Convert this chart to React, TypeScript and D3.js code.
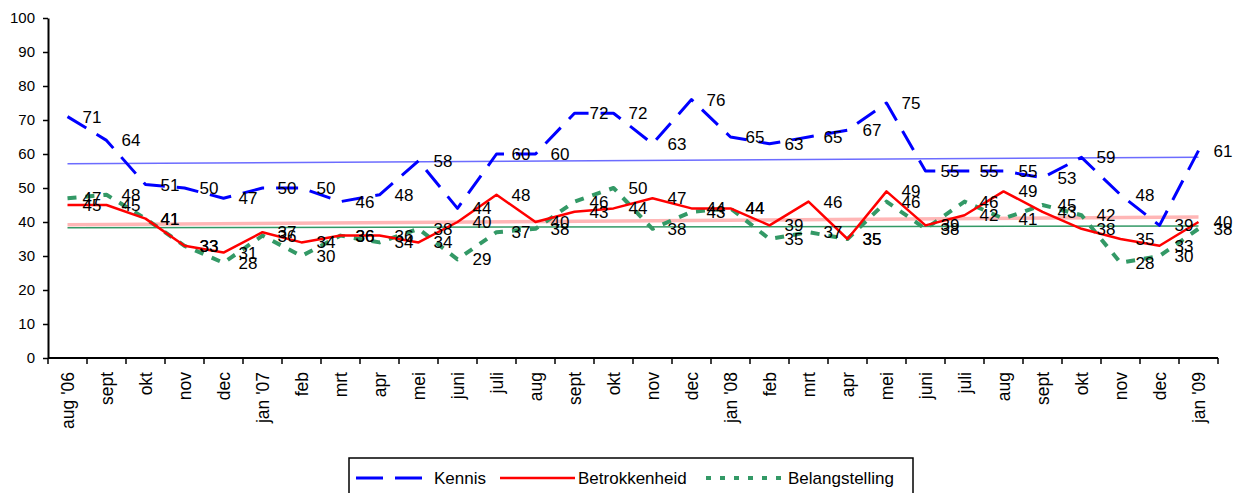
import { useEffect, useRef } from "react";
import * as d3 from "d3";

const categories = [
  "aug '06", "sept", "okt", "nov", "dec", "jan '07", "feb", "mrt", "apr", "mei",
  "juni", "juli", "aug", "sept", "okt", "nov", "dec", "jan '08", "feb", "mrt",
  "apr", "mei", "juni", "juli", "aug", "sept", "okt", "nov", "dec", "jan '09",
];

const kennis = [
  71, 64, 51, 50, 47, 50, 50, 46, 48, 58, 44, 60, 60, 72, 72, 63, 76, 65, 63, 65,
  67, 75, 55, 55, 55, 53, 59, 48, 39, 61,
];
const betrokkenheid = [
  45, 45, 41, 33, 31, 37, 34, 36, 36, 34, 40, 48, 40, 43, 44, 47, 44, 44, 39, 46,
  35, 49, 39, 42, 49, 43, 38, 35, 33, 40,
];
const belangstelling = [
  47, 48, 41, 33, 28, 36, 30, 36, 34, 38, 29, 37, 38, 46, 50, 38, 43, 44, 35, 37,
  35, 46, 38, 46, 41, 45, 42, 28, 30, 38,
];

const yTicks = [0, 10, 20, 30, 40, 50, 60, 70, 80, 90, 100];

const series = [
  { name: "Kennis", values: kennis, color: "#0000ff", width: 3, dash: "22,12", trend: "#3b3bff", trendWidth: 1.5, trendOpacity: 0.75 },
  { name: "Betrokkenheid", values: betrokkenheid, color: "#ff0000", width: 2.5, dash: null, trend: "#ff7070", trendWidth: 3.5, trendOpacity: 0.5 },
  { name: "Belangstelling", values: belangstelling, color: "#339966", width: 4, dash: "9,9", trend: "#339966", trendWidth: 1.5, trendOpacity: 1 },
];

// lineaire trendlijn (kleinste kwadraten), begin- en eindwaarde
const trendEnds = (values) => {
  const n = values.length;
  const xs = d3.range(n);
  const mx = d3.mean(xs);
  const my = d3.mean(values);
  const sxy = d3.sum(xs, (x, i) => (x - mx) * (values[i] - my));
  const sxx = d3.sum(xs, (x) => (x - mx) ** 2);
  const b = sxy / sxx;
  const a = my - b * mx;
  return [a, a + b * (n - 1)];
};

const FONT = "'Liberation Sans', Arial, sans-serif";

export default function App() {
  const svgRef = useRef(null);
  const width = 1239;
  const height = 493;

  useEffect(() => {
    const svg = d3.select(svgRef.current);
    svg.selectAll("*").remove();

    const left = 48;
    const right = 1218;
    const top = 18;
    const bottom = 358;

    const xScale = d3.scaleBand().domain(d3.range(categories.length)).range([left, right]);
    const cx = (i) => xScale(i) + xScale.bandwidth() / 2;
    const yScale = d3.scaleLinear().domain([0, 100]).range([bottom, top]);

    // y-as
    const yAxis = svg
      .append("g")
      .attr("transform", `translate(${left},0)`)
      .call(d3.axisLeft(yScale).tickValues(yTicks).tickSize(5).tickPadding(8).tickSizeOuter(0));
    yAxis.select(".domain").attr("stroke", "#000").attr("stroke-width", 2);
    yAxis.selectAll(".tick line").attr("stroke", "#000").attr("stroke-width", 1.5);
    yAxis
      .selectAll(".tick text")
      .attr("fill", "#000")
      .style("font-family", FONT)
      .style("font-size", "15px");

    // x-as met streepjes op de grenzen van de categorieën
    const xg = svg.append("g");
    xg.append("line")
      .attr("x1", left)
      .attr("x2", right)
      .attr("y1", bottom)
      .attr("y2", bottom)
      .attr("stroke", "#000")
      .attr("stroke-width", 2);
    const edges = [...d3.range(categories.length).map((i) => xScale(i)), right];
    xg.selectAll(".xtick")
      .data(edges)
      .join("line")
      .attr("x1", (d) => d)
      .attr("x2", (d) => d)
      .attr("y1", bottom)
      .attr("y2", bottom + 6)
      .attr("stroke", "#000")
      .attr("stroke-width", 1.5);
    xg.selectAll(".xlabel")
      .data(categories)
      .join("text")
      .attr("transform", (d, i) => `translate(${cx(i)},${bottom + 14}) rotate(-90)`)
      .attr("dy", "0.35em")
      .attr("text-anchor", "end")
      .style("font-family", FONT)
      .style("font-size", "17.5px")
      .text((d) => d);

    // trendlijnen
    series.forEach((s) => {
      const [a, b] = trendEnds(s.values);
      svg
        .append("line")
        .attr("x1", cx(0))
        .attr("x2", cx(s.values.length - 1))
        .attr("y1", yScale(a))
        .attr("y2", yScale(b))
        .attr("stroke", s.trend)
        .attr("stroke-width", s.trendWidth)
        .attr("opacity", s.trendOpacity);
    });

    // lijnen
    const line = d3
      .line()
      .x((d, i) => cx(i))
      .y((d) => yScale(d));

    [series[2], series[1], series[0]].forEach((s) => {
      svg
        .append("path")
        .datum(s.values)
        .attr("d", line)
        .attr("fill", "none")
        .attr("stroke", s.color)
        .attr("stroke-width", s.width)
        .attr("stroke-dasharray", s.dash)
        .attr("stroke-linejoin", "round");
    });

    // datalabels rechts van het punt
    series.forEach((s) => {
      svg
        .append("g")
        .selectAll("text")
        .data(s.values)
        .join("text")
        .attr("x", (d, i) => cx(i) + 15)
        .attr("y", (d) => yScale(d))
        .attr("dy", "0.35em")
        .style("font-family", FONT)
        .style("font-size", "17px")
        .attr("fill", "#000")
        .text((d) => d);
    });

    // legenda
    const legend = svg.append("g");
    legend
      .append("rect")
      .attr("x", 349)
      .attr("y", 458)
      .attr("width", 564)
      .attr("height", 44)
      .attr("fill", "#fff")
      .attr("stroke", "#000")
      .attr("stroke-width", 1.5);

    const items = [
      { s: series[0], x1: 356, x2: 424, tx: 434 },
      { s: series[1], x1: 500, x2: 575, tx: 578 },
      { s: series[2], x1: 706, x2: 785, tx: 788 },
    ];
    items.forEach(({ s, x1, x2, tx }) => {
      legend
        .append("line")
        .attr("x1", x1)
        .attr("x2", x2)
        .attr("y1", 478)
        .attr("y2", 478)
        .attr("stroke", s.color)
        .attr("stroke-width", s.width)
        .attr("stroke-dasharray", s.name === "Kennis" ? "27,12" : s.dash ? "5,9" : null);
      legend
        .append("text")
        .attr("x", tx)
        .attr("y", 478)
        .attr("dy", "0.35em")
        .style("font-family", FONT)
        .style("font-size", "17px")
        .text(s.name);
    });
  }, []);

  return (
    <svg
      ref={svgRef}
      width={width}
      height={height}
      style={{ position: "absolute", left: 0, top: 0, background: "#fff" }}
    ></svg>
  );
}
